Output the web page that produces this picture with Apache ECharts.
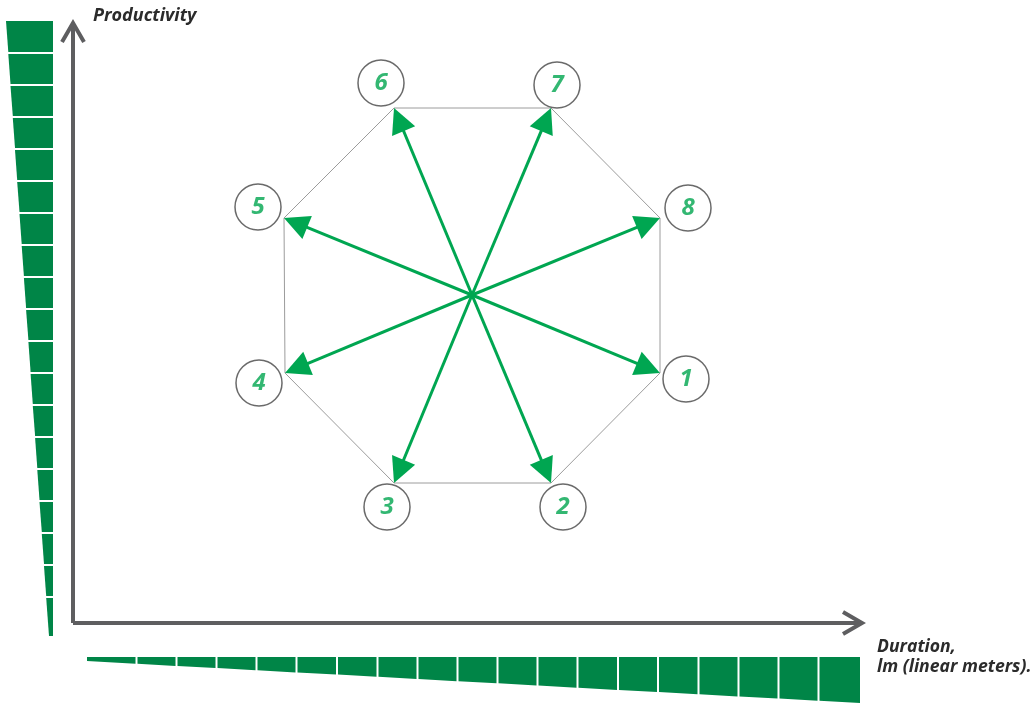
<!DOCTYPE html>
<html><head><meta charset="utf-8">
<script src="https://cdn.jsdelivr.net/npm/echarts@6/dist/echarts.min.js"></script>
<style>html,body{margin:0;padding:0;background:#fff}#chart{width:1035px;height:703px}</style>
</head><body><div id="chart"></div>
<script>
// ---- data (diagram units, origin at the axes corner) ----
const hubCenter = [399, 328];
const stepNames = ['1', '2', '3', '4', '5', '6', '7', '8'];
const stepVertices = [[587, 250], [478, 140], [321, 140], [212, 250], [211, 405], [321, 515], [478, 515], [587, 405]];
const stepBadges = [[613, 244], [490, 116], [314, 116], [186, 240], [185, 416], [308, 540], [484, 538], [615, 415]];
const productivityEdges = [603, 570, 538, 506, 474, 442, 410, 378, 346, 314, 282, 250, 218, 186, 154, 122, 90, 58, 26, -14];
const productivityWidths = [47, 44.7, 42.5, 40.2, 38, 35.8, 33.5, 31.3, 29.1, 26.9, 24.6, 22.4, 20.2, 17.9, 15.7, 13.5, 11.2, 9, 6.8, 4];
const durationEdges = [13, 63.5, 103.5, 143.5, 183.5, 223.5, 264, 304.5, 344.5, 384.5, 424.5, 464.5, 504.5, 545, 585, 625.5, 665.5, 705.5, 745.5, 788];
const durationWidths = [4, 6.7, 8.9, 11.1, 13.3, 15.4, 17.6, 19.8, 22.0, 24.2, 26.3, 28.5, 30.7, 32.9, 35.0, 37.2, 39.4, 41.6, 43.7, 46];
const xAxisName = 'Duration,\nlm (linear meters).';
const yAxisName = 'Productivity';
const xAxisMax = 789;
const yAxisMax = 600;

// ---- styling ----
const AXIS_COLOR = '#5e5e60';
const BAR_GREEN = '#008547';
const ARROW_GREEN = '#00a651';
const FONT = '"Open Sans", "DejaVu Sans", sans-serif';
const PROD_BAR_RIGHT = -20;   // right edge of the productivity scale
const DUR_BAR_TOP = -34;      // top edge of the duration scale

function bands(edges, widths) {
  const out = [];
  for (let i = 0; i < edges.length - 1; i++) out.push([edges[i], edges[i + 1], widths[i], widths[i + 1]]);
  return out;
}

const chart = echarts.init(document.getElementById('chart'), null, { renderer: 'canvas' });

const axisCommon = {
  type: 'value',
  axisTick: { show: false },
  axisLabel: { show: false },
  splitLine: { show: false },
  nameLocation: 'end'
};

chart.setOption({
  animation: false,
  backgroundColor: '#fff',
  grid: { left: 73, top: 23, width: 789, height: 600, containLabel: false, outerBoundsMode: 'none' },
  xAxis: Object.assign({}, axisCommon, {
    min: 0, max: xAxisMax,
    axisLine: { show: true, onZero: false, lineStyle: { color: AXIS_COLOR, width: 4, cap: 'butt' } },
    name: xAxisName,
    nameGap: 15,
    nameTextStyle: {
      fontFamily: FONT, fontStyle: 'italic', fontWeight: 'bold', fontSize: 17.6, lineHeight: 20,
      color: '#2b2b2b', align: 'left', verticalAlign: 'top', padding: [14, 0, 0, 0]
    }
  }),
  yAxis: Object.assign({}, axisCommon, {
    min: 0, max: yAxisMax,
    axisLine: { show: true, onZero: false, lineStyle: { color: AXIS_COLOR, width: 4, cap: 'butt' } },
    name: yAxisName,
    nameGap: -2,
    nameTextStyle: {
      fontFamily: FONT, fontStyle: 'italic', fontWeight: 'bold', fontSize: 18,
      color: '#2b2b2b', align: 'left', verticalAlign: 'bottom', padding: [0, 0, 0, 20]
    }
  }),
  series: [
    // productivity scale (left, tapering)
    {
      type: 'custom', silent: true, z: 2,
      data: bands(productivityEdges, productivityWidths),
      renderItem: function (params, api) {
        const a = api.coord([PROD_BAR_RIGHT, api.value(0)]);
        const b = api.coord([PROD_BAR_RIGHT, api.value(1)]);
        const wa = api.size([api.value(2), 0])[0];
        const wb = api.size([api.value(3), 0])[0];
        const y0 = a[1] + 1, y1 = b[1] - 1;
        return {
          type: 'polygon',
          shape: { points: [[a[0] - wa, y0], [a[0], y0], [b[0], y1], [b[0] - wb, y1]] },
          style: { fill: BAR_GREEN }
        };
      }
    },
    // duration scale (bottom, tapering)
    {
      type: 'custom', silent: true, z: 2,
      data: bands(durationEdges, durationWidths),
      renderItem: function (params, api) {
        const a = api.coord([api.value(0), DUR_BAR_TOP]);
        const b = api.coord([api.value(1), DUR_BAR_TOP]);
        const ha = api.size([0, api.value(2)])[1];
        const hb = api.size([0, api.value(3)])[1];
        const x0 = a[0] + 1, x1 = b[0] - 1;
        return {
          type: 'polygon',
          shape: { points: [[x0, a[1]], [x1, b[1]], [x1, b[1] + hb], [x0, a[1] + ha]] },
          style: { fill: BAR_GREEN }
        };
      }
    },
    // axis arrow heads (open chevrons)
    {
      type: 'custom', silent: true, z: 5,
      data: [[xAxisMax, 0, 0], [0, yAxisMax, 1]],
      renderItem: function (params, api) {
        const p = api.coord([api.value(0), api.value(1)]);
        const vertical = api.value(2) === 1;
        const pts = vertical
          ? [[p[0] - 11, p[1] + 19], [p[0], p[1]], [p[0] + 11, p[1] + 19]]
          : [[p[0] - 19, p[1] - 11], [p[0], p[1]], [p[0] - 19, p[1] + 11]];
        return {
          type: 'polyline',
          shape: { points: pts },
          style: { stroke: AXIS_COLOR, lineWidth: 4, fill: null, lineJoin: 'miter' }
        };
      }
    },
    // octagon outline
    {
      type: 'line', silent: true, z: 1,
      data: stepVertices.concat([stepVertices[0]]),
      symbol: 'none',
      lineStyle: { color: '#9c9c9c', width: 1 }
    },
    // numbered badges
    {
      type: 'scatter', silent: true, z: 2,
      data: stepBadges.map((p, i) => ({ value: p, name: stepNames[i] })),
      symbol: 'circle', symbolSize: 46,
      itemStyle: { color: '#ffffff', borderColor: '#454545', borderWidth: 1.5 },
      label: {
        show: true, position: 'inside', formatter: '{b}',
        color: '#00a54f', fontFamily: FONT, fontWeight: 'bold', fontStyle: 'italic', fontSize: 24
      }
    },
    // arrows from the hub to each vertex
    {
      type: 'custom', silent: true, z: 4,
      data: stepVertices,
      renderItem: function (params, api) {
        const c = api.coord(hubCenter);
        const t = api.coord([api.value(0), api.value(1)]);
        const dx = t[0] - c[0], dy = t[1] - c[1];
        const len = Math.sqrt(dx * dx + dy * dy);
        const ux = dx / len, uy = dy / len;
        const headLen = 25, headHalf = 12.5;
        const bx = t[0] - ux * headLen, by = t[1] - uy * headLen;
        return {
          type: 'group',
          children: [
            {
              type: 'line',
              shape: { x1: c[0], y1: c[1], x2: bx + ux * 2, y2: by + uy * 2 },
              style: { stroke: ARROW_GREEN, lineWidth: 3 }
            },
            {
              type: 'polygon',
              shape: { points: [[t[0], t[1]], [bx - uy * headHalf, by + ux * headHalf], [bx + uy * headHalf, by - ux * headHalf]] },
              style: { fill: ARROW_GREEN }
            }
          ]
        };
      }
    }
  ]
});
</script>
</body></html>
